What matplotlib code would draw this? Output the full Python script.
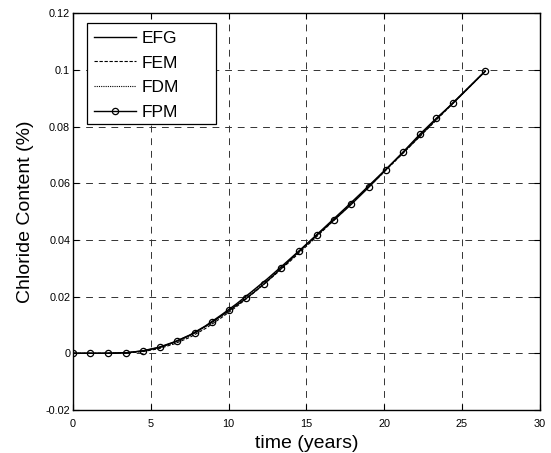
import numpy as np
import matplotlib.pyplot as plt
from matplotlib.patches import Rectangle

plt.rcParams['font.family'] = ['Liberation Sans', 'DejaVu Sans']

# time (years) and chloride content (%)
time_fpm = [0, 1.12, 2.25, 3.4, 4.5, 5.6, 6.7, 7.85, 8.95, 10.05, 11.15, 12.27,
            13.4, 14.55, 15.7, 16.8, 17.9, 19.0, 20.1, 21.2, 22.3, 23.35, 24.45, 26.5]
fpm = [0, 0, 0, 0.0002, 0.0008, 0.0021, 0.0043, 0.0073, 0.0110, 0.0151, 0.0194, 0.0244,
       0.0300, 0.0360, 0.0418, 0.0471, 0.0526, 0.0585, 0.0647, 0.0709, 0.0773, 0.0829,
       0.0883, 0.0995]

time_fd = [0, 2, 3.5, 4.5, 5.5, 6.5, 7.5, 8.5, 9.5, 10.5, 11.5, 12.5, 13.5, 14.5,
           15.5, 16.5, 17.5, 18.5, 19.5, 20.5, 21.5, 22.5, 23.5, 24.5, 25.5, 26.5]
efg = [0, 0, 0.0002, 0.0009, 0.0021, 0.0040, 0.0064, 0.0096, 0.0134, 0.0174, 0.0218,
       0.0263, 0.0311, 0.0360, 0.0410, 0.0461, 0.0512, 0.0564, 0.0617, 0.0670, 0.0724,
       0.0779, 0.0834, 0.0888, 0.0942, 0.0996]
fem = [0, 0, 0.0001, 0.0006, 0.0016, 0.0033, 0.0056, 0.0087, 0.0124, 0.0164, 0.0208,
       0.0254, 0.0302, 0.0352, 0.0403, 0.0455, 0.0507, 0.0560, 0.0613, 0.0667, 0.0721,
       0.0776, 0.0831, 0.0886, 0.0940, 0.0995]
fdm = [0, 0, 0.0002, 0.0008, 0.0019, 0.0037, 0.0061, 0.0093, 0.0131, 0.0171, 0.0215,
       0.0260, 0.0308, 0.0357, 0.0407, 0.0458, 0.0510, 0.0562, 0.0615, 0.0668, 0.0722,
       0.0777, 0.0832, 0.0887, 0.0941, 0.0995]

xticks = [0, 5, 10, 15, 20, 25, 30]
yticks = [-0.02, 0, 0.02, 0.04, 0.06, 0.08, 0.1, 0.12]
ytick_labels = ['-0.02', '0', '0.02', '0.04', '0.06', '0.08', '0.1', '0.12']

fig = plt.figure(figsize=(5.51, 4.53), dpi=100)
ax = fig.add_axes([0.1325, 0.095, 0.847, 0.876])

ax.plot(time_fd, efg, color='black', lw=1.0, ls='-', label='EFG')
ax.plot(time_fd, fem, color='black', lw=0.8, ls=(0, (3, 1.5)), label='FEM')
ax.plot(time_fd, fdm, color='black', lw=0.8, ls=(0, (1, 1)), label='FDM')
ax.plot(time_fpm, fpm, color='black', lw=1.0, ls='-', marker='o', ms=4.5,
        mfc='none', mec='black', mew=0.9, label='FPM')

ax.set_xlim(0, 30)
ax.set_ylim(-0.02, 0.12)
ax.set_xticks(xticks)
ax.set_yticks(yticks)
ax.set_yticklabels(ytick_labels)
ax.tick_params(direction='in', labelsize=7.8, length=4, width=0.8,
               top=True, right=True)
ax.tick_params(axis='x', pad=6.5)
ax.tick_params(axis='y', pad=2)
ax.grid(True, color='#333333', ls=(0, (7, 6)), lw=0.7)
for s in ax.spines.values():
    s.set_linewidth(1.0)

ax.set_xlabel('time (years)', fontsize=14, labelpad=4)
ax.set_ylabel('Chloride Content (%)', fontsize=14, labelpad=8.5)

# legend text without its own frame, box drawn separately (it is wider)
leg = ax.legend(loc='upper left', bbox_to_anchor=(0.029, 0.975), fontsize=12.5,
                frameon=False, handlelength=2.4, handletextpad=0.3,
                labelspacing=0.54, borderpad=0.45, borderaxespad=0)
leg.set_zorder(5)
box = Rectangle((0.0293, 0.7204), 0.2763, 0.2552, transform=ax.transAxes,
                facecolor='white', edgecolor='black', lw=0.9, zorder=4)
ax.add_patch(box)

fig.savefig('out.png', dpi=100)
